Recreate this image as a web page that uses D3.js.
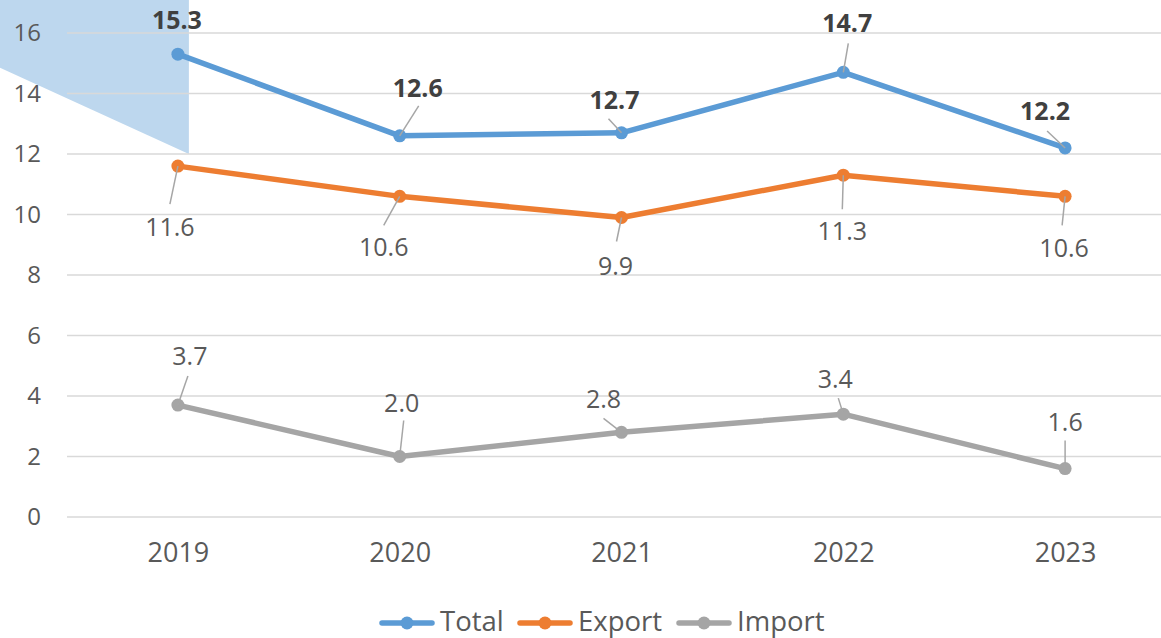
<!DOCTYPE html>
<html>
<head>
<meta charset="utf-8">
<script src="https://cdn.jsdelivr.net/npm/d3@7"></script>
<style>
  html, body { margin: 0; padding: 0; background: #fff; }
  svg { display: block; font-family: "Open Sans", sans-serif; }
</style>
</head>
<body>
<svg id="chart" width="1161" height="638"></svg>
<script>
// ---- data ----
const years = ["2019", "2020", "2021", "2022", "2023"];
const totalValues = [15.3, 12.6, 12.7, 14.7, 12.2];
const exportValues = [11.6, 10.6, 9.9, 11.3, 10.6];
const importValues = [3.7, 2.0, 2.8, 3.4, 1.6];
const yTickValues = [0, 2, 4, 6, 8, 10, 12, 14, 16];
const seriesNames = ["Total", "Export", "Import"];

// ---- layout (label offsets from their point, in px) ----
const labelLayout = {
  Total:  [{dx: -1, dy: -35, lx: null, ly: null}, {dx: 18, dy: -49, lx: 19, ly: -30}, {dx: -7, dy: -34, lx: -13, ly: -14}, {dx: 4, dy: -50, lx: 5, ly: -29}, {dx: -20, dy: -38, lx: -18, ly: -17}],
  Export: [{dx: -8, dy: 60, lx: -8, ly: 38}, {dx: -16, dy: 50, lx: -16, ly: 29}, {dx: -6, dy: 47, lx: -5, ly: 24}, {dx: -1, dy: 55, lx: -1, ly: 34}, {dx: -1, dy: 51, lx: -3, ly: 29}],
  Import: [{dx: 12, dy: -50, lx: 10, ly: -29}, {dx: 2, dy: -55, lx: 4, ly: -36}, {dx: -18, dy: -34, lx: -18, ly: -14}, {dx: -8, dy: -36, lx: -5, ly: -16}, {dx: 0, dy: -48, lx: 0, ly: -28}]
};
const colors = {Total: "#5B9BD5", Export: "#ED7D31", Import: "#A5A5A5"};

const svg = d3.select("#chart");
const W = 1161, H = 638;

const x = d3.scalePoint().domain(years).range([67, 1176]).padding(0.5);
const y = d3.scaleLinear().domain([0, 16]).range([517, 33]);

// decorative shape top-left
const shapeX = x("2019") + 11;
svg.append("polygon")
  .attr("points", [[0, 0], [shapeX, 0], [shapeX, y(12)], [0, y(14.85)]].map(p => p.join(",")).join(" "))
  .attr("fill", "#BDD7EE");

// gridlines
svg.append("g")
  .selectAll("line").data(yTickValues).join("line")
  .attr("x1", 67).attr("x2", W)
  .attr("y1", d => y(d)).attr("y2", d => y(d))
  .attr("stroke", "#D9D9D9").attr("stroke-width", 1.5);

// y axis labels
const yAxis = d3.axisLeft(y).tickValues(yTickValues).tickSize(0).tickPadding(0).tickFormat(d3.format("d"));
svg.append("g").attr("transform", "translate(41,0)").call(yAxis)
  .call(g => g.select(".domain").remove())
  .call(g => g.selectAll("text").attr("font-size", 24).attr("fill", "#595959").attr("font-family", "Open Sans"));

// x axis labels
const xAxis = d3.axisBottom(x).tickSize(0).tickPadding(0);
svg.append("g").attr("transform", "translate(0,553)").call(xAxis)
  .call(g => g.select(".domain").remove())
  .call(g => g.selectAll("text").attr("font-size", 27).attr("fill", "#595959").attr("font-family", "Open Sans").attr("dy", "0.35em"));

const series = [
  {name: "Total", values: totalValues},
  {name: "Export", values: exportValues},
  {name: "Import", values: importValues}
];

const line = d3.line().x((d, i) => x(years[i])).y(d => y(d));

series.forEach(s => {
  svg.append("path")
    .attr("d", line(s.values))
    .attr("fill", "none")
    .attr("stroke", colors[s.name])
    .attr("stroke-width", 5.5)
    .attr("stroke-linejoin", "round")
    .attr("stroke-linecap", "round");
  svg.append("g").selectAll("circle").data(s.values).join("circle")
    .attr("cx", (d, i) => x(years[i]))
    .attr("cy", d => y(d))
    .attr("r", 6.5)
    .attr("fill", colors[s.name]);
});

// leader lines + labels
series.forEach(s => {
  const lay = labelLayout[s.name];
  const g = svg.append("g");
  s.values.forEach((v, i) => {
    const px = x(years[i]), py = y(v);
    const L = lay[i];
    if (L.lx !== null) {
      g.append("line")
        .attr("x1", px + L.lx).attr("y1", py + L.ly)
        .attr("x2", px).attr("y2", py)
        .attr("stroke", "#A6A6A6").attr("stroke-width", 1.5);
    }
    g.append("text")
      .attr("x", px + L.dx).attr("y", py + L.dy)
      .attr("text-anchor", "middle")
      .attr("dominant-baseline", "central")
      .attr("font-size", 25)
      .attr("font-weight", s.name === "Total" ? 700 : 400)
      .attr("fill", s.name === "Total" ? "#404040" : "#595959")
      .text(d3.format(".1f")(v));
  });
});

// legend
const legendItems = [
  {name: "Total", x0: 380},
  {name: "Export", x0: 518},
  {name: "Import", x0: 677}
];
const lg = svg.append("g");
legendItems.forEach(it => {
  lg.append("line").attr("x1", it.x0 + 2).attr("x2", it.x0 + 52).attr("y1", 623).attr("y2", 623)
    .attr("stroke", colors[it.name]).attr("stroke-width", 5.5).attr("stroke-linecap", "round");
  lg.append("circle").attr("cx", it.x0 + 27).attr("cy", 623).attr("r", 6.5).attr("fill", colors[it.name]);
  lg.append("text").attr("x", it.x0 + 60).attr("y", 631)
    .attr("font-size", 27.5).attr("fill", "#595959").text(it.name);
});
</script>
</body>
</html>
